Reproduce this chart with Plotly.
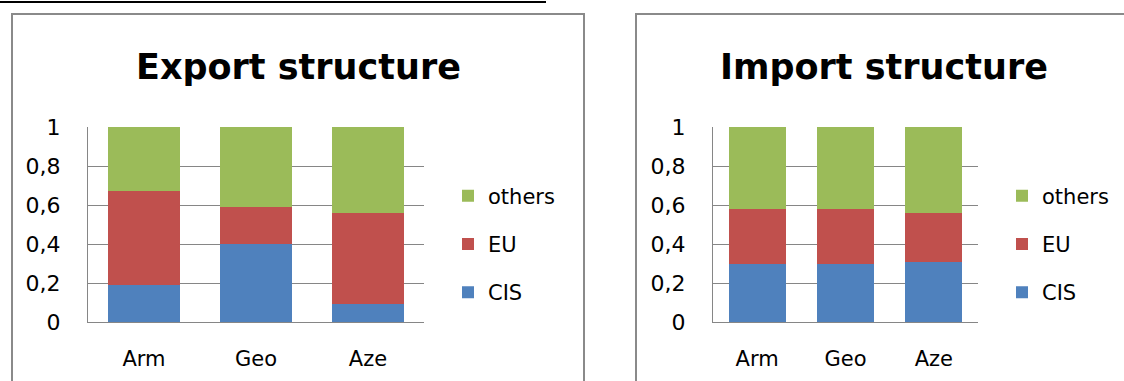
import plotly.graph_objects as go

# Trade structure shares by partner group
countries = ["Arm", "Geo", "Aze"]
groups = ["CIS", "EU", "others"]

export_cis = [0.19, 0.40, 0.09]
export_eu = [0.48, 0.19, 0.47]
export_others = [0.33, 0.41, 0.44]

import_cis = [0.30, 0.30, 0.31]
import_eu = [0.28, 0.28, 0.25]
import_others = [0.42, 0.42, 0.44]

y_ticks = [0, 0.2, 0.4, 0.6, 0.8, 1]

colors = {"CIS": "#4F81BD", "EU": "#C0504D", "others": "#9BBB59"}
legend_rank = {"others": 1, "EU": 2, "CIS": 3}
FONT = "DejaVu Sans, sans-serif"
GRID = "#868686"
W, H = 1124, 381


def px(x):
    return x / W


def py(y):
    return 1 - y / H


fig = go.Figure()

export_series = {"CIS": export_cis, "EU": export_eu, "others": export_others}
import_series = {"CIS": import_cis, "EU": import_eu, "others": import_others}

for name in groups:
    fig.add_trace(go.Bar(
        x=countries, y=export_series[name], name=name,
        marker=dict(color=colors[name], line=dict(width=0)),
        xaxis="x", yaxis="y", legend="legend", legendgroup="e" + name,
        legendrank=legend_rank[name],
    ))
for name in groups:
    fig.add_trace(go.Bar(
        x=countries, y=import_series[name], name=name,
        marker=dict(color=colors[name], line=dict(width=0)),
        xaxis="x2", yaxis="y2", legend="legend2", legendgroup="i" + name,
        legendrank=legend_rank[name],
    ))

yaxis_style = dict(
    range=[0, 1], tickvals=y_ticks, showgrid=True, gridcolor=GRID, gridwidth=1,
    zeroline=False, showline=True, linecolor=GRID, linewidth=1, automargin=False,
    ticks="", ticklabelstandoff=22, fixedrange=True,
    tickfont=dict(family=FONT, size=22, color="#000"),
)
xaxis_style = dict(
    showgrid=False, showline=True, linecolor=GRID, linewidth=1, ticks="",
    automargin=False, ticklabelstandoff=18,
    tickfont=dict(family=FONT, size=21, color="#000"), fixedrange=True,
)

legend_style = dict(
    traceorder="grouped", tracegroupgap=18, bgcolor="rgba(0,0,0,0)",
    font=dict(family=FONT, size=21, color="#000"), yanchor="middle",
    xref="paper", yref="paper", itemclick=False, itemdoubleclick=False,
)

fig.update_layout(
    template="none",
    width=W, height=H, margin=dict(l=0, r=0, t=0, b=0, pad=0, autoexpand=False),
    paper_bgcolor="white", plot_bgcolor="white", showlegend=True,
    barmode="stack", bargap=0.355, separators=",.",
    xaxis=dict(domain=[px(88), px(424)], anchor="y", **xaxis_style),
    yaxis=dict(domain=[py(322), py(127)], anchor="x", **yaxis_style),
    xaxis2=dict(domain=[px(713), px(978)], anchor="y2", **xaxis_style),
    yaxis2=dict(domain=[py(322), py(127)], anchor="x2", **yaxis_style),
    legend=dict(x=px(448), y=py(244), **legend_style),
    legend2=dict(x=px(1002), y=py(244), **legend_style),
    annotations=[
        dict(text="<b>Export structure</b>", x=px(298), y=py(67), xref="paper", yref="paper",
             xanchor="center", yanchor="middle", showarrow=False,
             font=dict(family=FONT, size=35, color="#000")),
        dict(text="<b>Import structure</b>", x=px(884), y=py(67), xref="paper", yref="paper",
             xanchor="center", yanchor="middle", showarrow=False,
             font=dict(family=FONT, size=35, color="#000")),
    ],
    shapes=[
        # caption underline
        dict(type="line", xref="paper", yref="paper", x0=0, x1=px(546), y0=py(2), y1=py(2),
             line=dict(color="#000", width=2)),
        # chart frames
        dict(type="rect", xref="paper", yref="paper", x0=px(12), x1=px(584), y0=py(14), y1=py(400),
             line=dict(color="#8A8A8A", width=2), layer="below"),
        dict(type="rect", xref="paper", yref="paper", x0=px(636), x1=px(1140), y0=py(14), y1=py(400),
             line=dict(color="#8A8A8A", width=2), layer="below"),
    ],
)

fig.write_html("out.html")
